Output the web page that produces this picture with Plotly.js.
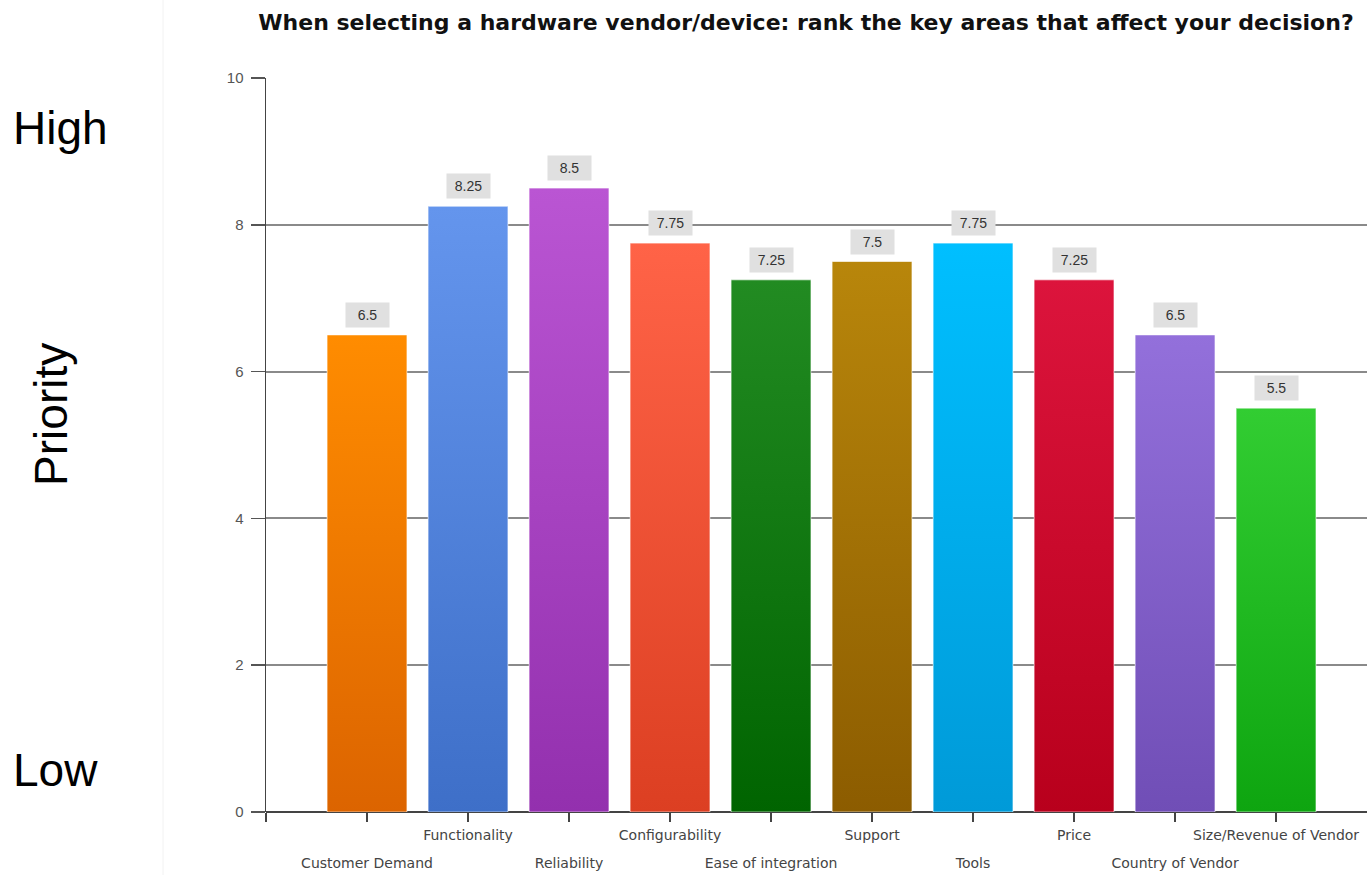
<!DOCTYPE html>
<html>
<head>
<meta charset="utf-8">
<script src="https://cdn.plot.ly/plotly-3.0.1.min.js"></script>
<style>html,body{margin:0;padding:0;background:#fff;}#chart{width:1367px;height:875px;}</style>
</head>
<body>
<div id="chart"></div>
<script>
const categories = ["Customer Demand","Functionality","Reliability","Configurability","Ease of integration","Support","Tools","Price","Country of Vendor","Size/Revenue of Vendor"];
const values = [6.5, 8.25, 8.5, 7.75, 7.25, 7.5, 7.75, 7.25, 6.5, 5.5];
const valueLabels = ["6.5","8.25","8.5","7.75","7.25","7.5","7.75","7.25","6.5","5.5"];
const topColors = ["#FF8C00","#6495ED","#BA55D3","#FF6347","#228B22","#B8860B","#00BFFF","#DC143C","#9370DB","#32CD32"];
const bottomColors = ["#DC6400","#3E6FC8","#9330AE","#DC3F22","#006400","#8C5C00","#009AD8","#B8001C","#704EB6","#0EA510"];
const yTicks = [0, 2, 4, 6, 8, 10];
const titleText = "When selecting a hardware vendor/device: rank the key areas that affect your decision?";

const barWidth = 0.79;
const idx = categories.map((c, i) => i);
const upperIdx = idx.filter(i => i % 2 === 1);
const lowerIdx = idx.filter(i => i % 2 === 0);

const traces = [];
traces.push({
  type: "bar", x: idx, y: values, width: barWidth,
  marker: {color: topColors, line: {width: 0}},
  hoverinfo: "skip", showlegend: false
});
idx.forEach(i => {
  const x0 = i - barWidth / 2, x1 = i + barWidth / 2;
  traces.push({
    type: "scatter", mode: "lines",
    x: [x0, x1, x1, x0, x0], y: [0, 0, values[i], values[i], 0],
    fill: "toself",
    fillgradient: {type: "vertical", colorscale: [[0, bottomColors[i]], [1, topColors[i]]]},
    line: {color: "rgba(255,255,255,0.6)", width: 1},
    hoverinfo: "skip", showlegend: false
  });
});
// invisible carrier for the second (lower-row) category axis
traces.push({type: "scatter", mode: "markers", x: lowerIdx, y: lowerIdx.map(() => 0), xaxis: "x2",
  marker: {opacity: 0}, hoverinfo: "skip", showlegend: false});

const plotW = 1367 - 266;
const labelFont = {family: "DejaVu Sans, Liberation Sans, sans-serif", size: 14, color: "#444"};
const annotations = idx.map(i => ({
  x: i, y: values[i], xref: "x", yref: "y",
  text: valueLabels[i], showarrow: false,
  yanchor: "bottom", yshift: 7,
  bgcolor: "#e0e0e0", width: 37, height: 18, borderpad: 3,
  font: {family: "Liberation Sans, Arial, sans-serif", size: 14, color: "#333"}
}));
const sideFont = {family: "Liberation Sans, Arial, sans-serif", size: 46, color: "#000"};
annotations.push(
  {x: (11 - 266) / plotW, y: 9.32, xref: "paper", yref: "y", text: "High", showarrow: false, xanchor: "left", yanchor: "middle", font: sideFont},
  {x: (11 - 266) / plotW, y: 0.57, xref: "paper", yref: "y", text: "Low", showarrow: false, xanchor: "left", yanchor: "middle", font: sideFont},
  {x: (51 - 266) / plotW, y: 5.41, xref: "paper", yref: "y", text: "Priority", showarrow: false, textangle: -90, xanchor: "center", yanchor: "middle", font: sideFont}
);

const layout = {
  width: 1367, height: 875,
  margin: {l: 266, r: 0, t: 78, b: 63, pad: 0},
  paper_bgcolor: "#ffffff", plot_bgcolor: "#ffffff",
  title: {text: "<b>" + titleText + "</b>", x: 806 / 1367, xref: "container", xanchor: "center",
          y: 1 - 22 / 875, yref: "container", yanchor: "middle",
          font: {family: "DejaVu Sans, Liberation Sans, sans-serif", size: 22, color: "#111"}},
  xaxis: {
    range: [-1, 9.9], tickmode: "array",
    tickvals: [-1].concat(upperIdx, lowerIdx),
    ticktext: [""].concat(upperIdx.map(i => categories[i]), lowerIdx.map(() => "")),
    tickangle: 0, ticks: "outside", ticklen: 9, tickwidth: 1.5, tickcolor: "#444",
    ticklabelstandoff: 1,
    showline: false, showgrid: false, zeroline: false,
    tickfont: labelFont
  },
  xaxis2: {
    range: [-1, 9.9], overlaying: "x", anchor: "y", side: "bottom",
    tickmode: "array", tickvals: lowerIdx, ticktext: lowerIdx.map(i => categories[i]),
    tickangle: 0, ticks: "", ticklabelstandoff: 41,
    showline: false, showgrid: false, zeroline: false,
    tickfont: labelFont
  },
  yaxis: {
    range: [0, 10], tickmode: "array", tickvals: yTicks,
    ticks: "outside", ticklen: 14, tickwidth: 1.5, tickcolor: "#555",
    ticklabelstandoff: 4,
    showline: true, linecolor: "#444", linewidth: 1.5,
    showgrid: true, gridcolor: "#8a8a8a", gridwidth: 2,
    zeroline: true, zerolinecolor: "#444", zerolinewidth: 2,
    tickfont: {family: "Liberation Sans, Arial, sans-serif", size: 15, color: "#555"}
  },
  shapes: [
    {type: "line", xref: "paper", yref: "paper", x0: (163 - 266) / plotW, x1: (163 - 266) / plotW,
     y0: -63 / 734, y1: 1 + 78 / 734, line: {color: "#f2f2f2", width: 1}, layer: "below"}
  ],
  annotations: annotations,
  showlegend: false, bargap: 0
};

Plotly.newPlot("chart", traces, layout, {displayModeBar: false, staticPlot: true});
</script>
</body>
</html>
